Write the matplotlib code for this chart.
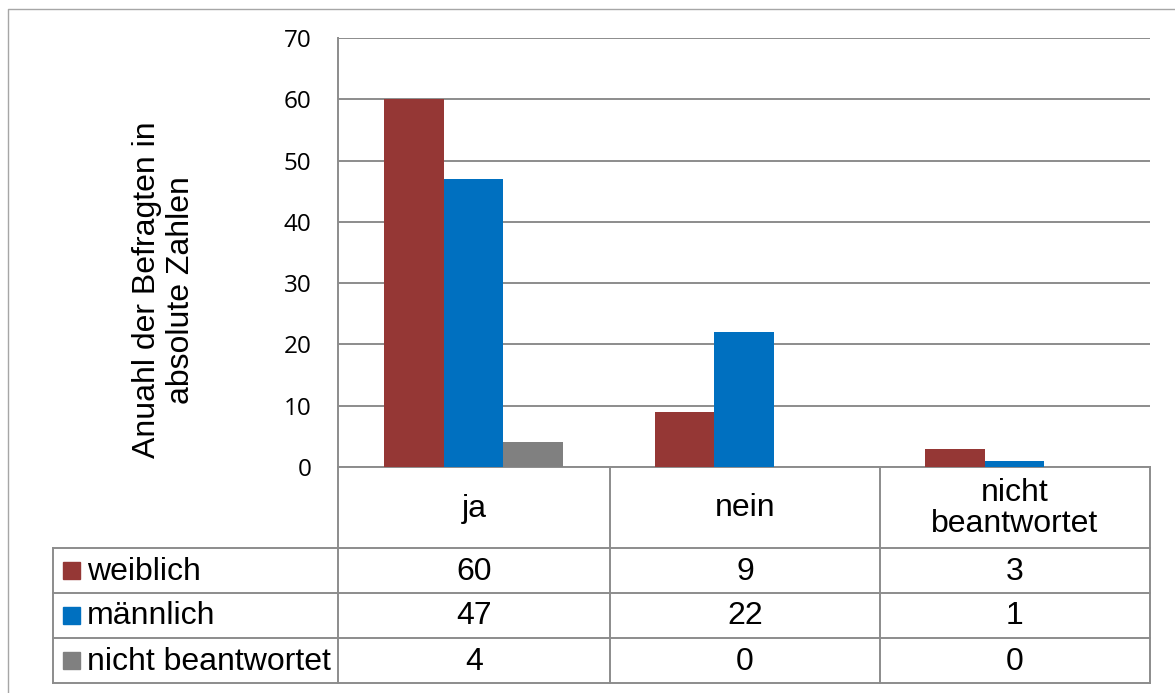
import matplotlib.pyplot as plt
import numpy as np

# Daten der Umfrage
kategorien = ['ja', 'nein', 'nicht\nbeantwortet']
serien = ['weiblich', 'männlich', 'nicht beantwortet']
weiblich = [60, 9, 3]
maennlich = [47, 22, 1]
nicht_beantwortet = [4, 0, 0]
farben = ['#953735', '#0070C0', '#808080']

werte = [weiblich, maennlich, nicht_beantwortet]

W, H = 1175, 693
fig = plt.figure(figsize=(W / 100, H / 100), dpi=100)
fig.patch.set_facecolor('white')

# Hilfsfunktion: Pixel -> Figurenkoordinaten
def fx(px):
    return px / W

def fy(py):
    return 1 - py / H

links, rechts, oben, unten = 338, 1150, 38, 467
ax = fig.add_axes([fx(links), fy(unten), fx(rechts) - fx(links), (unten - oben) / H])

x = np.arange(len(kategorien))
breite = 0.22
for i, (name, daten) in enumerate(zip(serien, werte)):
    ax.bar(x + (i - 1) * breite, daten, width=breite, color=farben[i], zorder=3, label=name)

ax.set_xlim(-0.5, len(kategorien) - 0.5)
ax.set_ylim(0, 70)
ax.set_yticks(range(0, 71, 10))
ax.set_xticks([])
ax.yaxis.grid(True, color='#8c8c8c', linewidth=1.4, zorder=0)
for s in ['top', 'right']:
    ax.spines[s].set_visible(False)
ax.spines['left'].set_color('#8c8c8c')
ax.spines['left'].set_linewidth(1.4)
ax.spines['bottom'].set_color('#8c8c8c')
ax.spines['bottom'].set_linewidth(1.4)
ax.tick_params(axis='y', length=0, pad=19)
for lbl in ax.get_yticklabels():
    lbl.set_fontfamily('Open Sans')
    lbl.set_fontsize(17.5)

# Achsentitel
fig.text(fx(164), fy(290), 'Anuahl der Befragten in\nabsolute Zahlen', rotation=90,
         ha='center', va='center', fontsize=23, family='Liberation Sans',
         linespacing=1.15)

# Datentabelle unter dem Diagramm
ov = fig.add_axes([0, 0, 1, 1], zorder=5)
ov.set_xlim(0, W)
ov.set_ylim(H, 0)
ov.axis('off')
ov.patch.set_alpha(0)

linie = dict(color='#8c8c8c', linewidth=1.4)
spalten = [links, 610, 880, rechts]
zeilen = [unten, 548, 593, 638, 683]
tab_links = 53

# vertikale Linien
for sx in spalten:
    ov.plot([sx, sx], [unten, zeilen[-1]], **linie)
ov.plot([tab_links, tab_links], [zeilen[1], zeilen[-1]], **linie)
# horizontale Linien
for zy in zeilen[1:]:
    ov.plot([tab_links, rechts], [zy, zy], **linie)

# Kopfzeile
for j, kat in enumerate(kategorien):
    cx = (spalten[j] + spalten[j + 1]) / 2
    ov.text(cx, (zeilen[0] + zeilen[1]) / 2 + 1, kat, ha='center', va='center',
            fontsize=23, family='Liberation Sans', linespacing=1.05)

# Datenzeilen mit Legendenmarkern
for i, (name, daten) in enumerate(zip(serien, werte)):
    cy = (zeilen[i + 1] + zeilen[i + 2]) / 2
    ov.add_patch(plt.Rectangle((63, cy - 8.5), 17, 17, color=farben[i]))
    ov.text(87, cy + 1, name, ha='left', va='center', fontsize=23, family='Liberation Sans')
    for j, v in enumerate(daten):
        cx = (spalten[j] + spalten[j + 1]) / 2
        ov.text(cx, cy + 1, str(v), ha='center', va='center', fontsize=23,
                family='Liberation Sans')

# äußerer Rahmen
ov.plot([8, 8, W + 5], [H + 5, 9, 9], color='#a6a6a6', linewidth=1)

fig.savefig('out.png', dpi=100)
